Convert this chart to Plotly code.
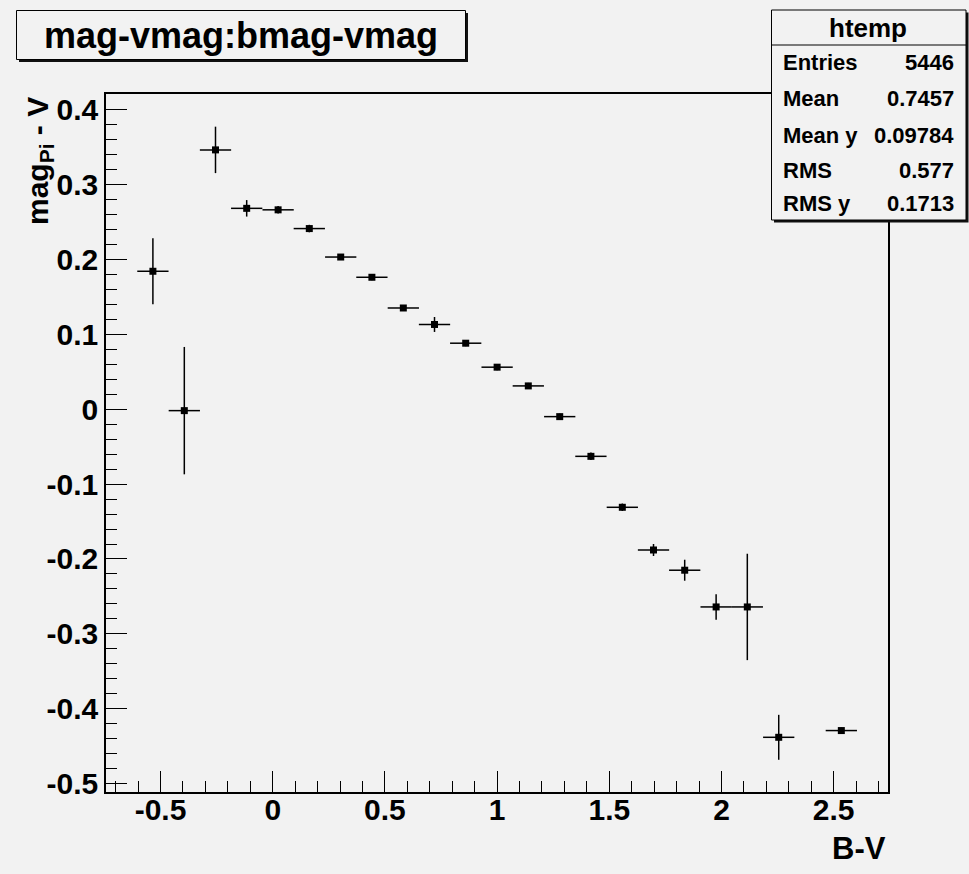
import plotly.graph_objects as go

# Profile of (mag - vmag) versus (bmag - vmag): bin centres, means and errors
bin_width = 0.1394
bv_centres = [-0.534, -0.394, -0.255, -0.116, 0.024, 0.163, 0.303, 0.442, 0.582,
              0.721, 0.860, 1.000, 1.139, 1.279, 1.418, 1.558, 1.697, 1.836,
              1.976, 2.115, 2.255, 2.534]
mag_mean = [0.184, -0.002, 0.346, 0.268, 0.266, 0.241, 0.203, 0.176, 0.135,
            0.113, 0.088, 0.056, 0.031, -0.010, -0.063, -0.131, -0.188, -0.215,
            -0.264, -0.264, -0.438, -0.429]
mag_err = [0.044, 0.085, 0.031, 0.011, 0.005, 0.005, 0.004, 0.004, 0.004,
           0.010, 0.004, 0.004, 0.004, 0.004, 0.005, 0.005, 0.008, 0.014,
           0.017, 0.071, 0.030, 0.004]

x_tickvals = [-0.5, 0, 0.5, 1, 1.5, 2, 2.5]
x_ticktext = ["-0.5", "0", "0.5", "1", "1.5", "2", "2.5"]
y_tickvals = [-0.5, -0.4, -0.3, -0.2, -0.1, 0, 0.1, 0.2, 0.3, 0.4]
y_ticktext = ["-0.5", "-0.4", "-0.3", "-0.2", "-0.1", "0", "0.1", "0.2", "0.3", "0.4"]

stat_labels = ["Entries", "Mean", "Mean y", "RMS", "RMS y"]
stat_values = ["5446", "0.7457", "0.09784", "0.577", "0.1713"]

X_RANGE = [-0.743, 2.742]
Y_RANGE = [-0.511, 0.4206]

W, H = 969, 874
ML, MR, MT, MB = 106, 81, 94, 82
PW, PH = W - ML - MR, H - MT - MB

BG = "#f2f2f2"
FONT = "Liberation Sans, Arial, Helvetica, sans-serif"


def px(xp):
    return (xp - ML) / PW


def py(yp):
    return (H - MB - yp) / PH


fig = go.Figure()
fig.add_trace(go.Scatter(
    x=bv_centres, y=mag_mean, mode="markers",
    marker=dict(symbol="square", size=7, color="black"),
    error_y=dict(type="data", array=mag_err, color="black", thickness=1.5, width=0),
    error_x=dict(type="constant", value=bin_width / 2, color="black", thickness=1.5, width=0),
    showlegend=False, hoverinfo="x+y",
))

minor_x = [round(-0.7 + 0.1 * i, 3) for i in range(35)]
minor_y = [round(-0.5 + 0.02 * i, 3) for i in range(47)]

axis_common = dict(
    showgrid=False, zeroline=False, showline=True, mirror=True,
    linecolor="black", linewidth=1.5,
    ticks="inside", tickcolor="black", tickwidth=1.2, ticklen=21,
    tickfont=dict(family=FONT, size=30, color="black", weight="bold"),
    tickmode="array",
)

fig.update_xaxes(range=X_RANGE, tickvals=x_tickvals, ticktext=x_ticktext,
                 ticklabelstandoff=-10,
                 minor=dict(tickmode="array", tickvals=minor_x, ticks="inside",
                            ticklen=11, tickcolor="black", tickwidth=1.2),
                 **axis_common)
fig.update_yaxes(range=Y_RANGE, tickvals=y_tickvals, ticktext=y_ticktext,
                 minor=dict(tickmode="array", tickvals=minor_y, ticks="inside",
                            ticklen=11, tickcolor="black", tickwidth=1.2),
                 **axis_common)

shapes = []
annotations = []

# Title box with drop shadow
shapes.append(dict(type="rect", xref="paper", yref="paper",
                   x0=px(19), x1=px(468), y0=py(62), y1=py(13),
                   fillcolor="#111111", line=dict(width=0), layer="above"))
shapes.append(dict(type="rect", xref="paper", yref="paper",
                   x0=px(16.5), x1=px(465.5), y0=py(59.5), y1=py(10.5),
                   fillcolor=BG, line=dict(color="black", width=1), layer="above"))
annotations.append(dict(xref="paper", yref="paper", x=px(241), y=py(35),
                        xanchor="center", yanchor="middle", showarrow=False,
                        text="mag-vmag:bmag-vmag",
                        font=dict(family=FONT, size=36, color="black", weight="bold")))

# Statistics box with drop shadow
shapes.append(dict(type="rect", xref="paper", yref="paper",
                   x0=px(774), x1=px(968.5), y0=py(222.5), y1=py(12.5),
                   fillcolor="#111111", line=dict(width=0), layer="above"))
shapes.append(dict(type="rect", xref="paper", yref="paper",
                   x0=px(771.5), x1=px(966), y0=py(220), y1=py(10),
                   fillcolor=BG, line=dict(color="black", width=1), layer="above"))
shapes.append(dict(type="line", xref="paper", yref="paper",
                   x0=px(771.5), x1=px(966), y0=py(45), y1=py(45),
                   line=dict(color="black", width=1), layer="above"))
annotations.append(dict(xref="paper", yref="paper", x=px(868), y=py(28),
                        xanchor="center", yanchor="middle", showarrow=False,
                        text="htemp",
                        font=dict(family=FONT, size=26, color="black", weight="bold")))
row_y = [63, 99, 135, 170, 203]
for lab, val, ry in zip(stat_labels, stat_values, row_y):
    annotations.append(dict(xref="paper", yref="paper", x=px(781), y=py(ry),
                            xanchor="left", yanchor="middle", showarrow=False,
                            text=lab,
                            font=dict(family=FONT, size=22, color="black", weight="bold")))
    annotations.append(dict(xref="paper", yref="paper", x=px(956), y=py(ry),
                            xanchor="right", yanchor="middle", showarrow=False,
                            text=val,
                            font=dict(family=FONT, size=22, color="black", weight="bold")))

# Axis titles, aligned to the axis ends
annotations.append(dict(xref="paper", yref="paper", x=px(888), y=py(848),
                        xanchor="right", yanchor="middle", showarrow=False,
                        text="B-V",
                        font=dict(family=FONT, size=31, color="black", weight="bold")))
annotations.append(dict(xref="paper", yref="paper", x=px(39), y=py(95),
                        xanchor="center", yanchor="top", showarrow=False,
                        textangle=-90, text="mag<sub>Pi</sub> - V",
                        font=dict(family=FONT, size=30, color="black", weight="bold")))

fig.update_layout(
    width=W, height=H,
    margin=dict(l=ML, r=MR, t=MT, b=MB, pad=0),
    paper_bgcolor=BG, plot_bgcolor=BG,
    shapes=shapes, annotations=annotations,
    showlegend=False,
)

fig.write_html("out.html")
